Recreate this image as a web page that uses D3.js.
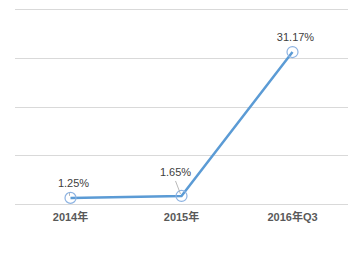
<!DOCTYPE html>
<html>
<head>
<meta charset="utf-8">
<script src="https://cdn.jsdelivr.net/npm/d3@7"></script>
<style>
  body { margin: 0; background: #fff; }
  text { font-family: "Liberation Sans", "Noto Sans CJK SC", sans-serif; }
</style>
</head>
<body>
<script>
// data
var categories = ["2014年", "2015年", "2016年Q3"];
var values = [1.25, 1.65, 31.17];
var yTicks = [0, 10, 20, 30, 40];

var margin = {top: 9, right: 14, bottom: 53, left: 15};
var width = 362 - margin.left - margin.right;
var height = 257 - margin.top - margin.bottom;

var svg = d3.select("body").append("svg")
    .attr("width", 362)
    .attr("height", 257)
  .append("g")
    .attr("transform", "translate(" + margin.left + "," + margin.top + ")");

var x = d3.scaleBand().domain(categories).range([0, width]);
var y = d3.scaleLinear().domain([0, 40]).range([height, 0]);

// gridlines
svg.selectAll(".grid")
    .data(yTicks)
  .enter().append("line")
    .attr("x1", 0).attr("x2", width)
    .attr("y1", function(d) { return Math.round(y(d)) + 0.5; })
    .attr("y2", function(d) { return Math.round(y(d)) + 0.5; })
    .style("stroke", "#d9d9d9")
    .style("stroke-width", 1);

// x axis labels
var xAxis = d3.axisBottom(x).tickSize(0).tickPadding(9);
var gx = svg.append("g")
    .attr("transform", "translate(0," + height + ")")
    .call(xAxis);
gx.select(".domain").remove();
gx.selectAll("text")
    .style("font-size", "11px")
    .style("font-weight", "bold")
    .style("fill", "#595959");

var cx = function(i) { return x(categories[i]) + x.bandwidth() / 2; };

// line
var line = d3.line()
    .x(function(d, i) { return cx(i); })
    .y(function(d) { return y(d); });

svg.append("path")
    .datum(values)
    .attr("d", line)
    .style("fill", "none")
    .style("stroke", "#5b9bd5")
    .style("stroke-width", 2.5);

// markers
svg.selectAll(".marker")
    .data(values)
  .enter().append("circle")
    .attr("cx", function(d, i) { return cx(i); })
    .attr("cy", function(d) { return y(d); })
    .attr("r", 5.5)
    .style("fill", "none")
    .style("stroke", "#8db3e2")
    .style("stroke-width", 1.2);

// labels with small leader lines
var labelOffset = [[3, -11], [-6, -20], [3, -11]];

svg.selectAll(".leader")
    .data(values.slice(0, 2))
  .enter().append("line")
    .attr("x1", function(d, i) { return cx(i) + labelOffset[i][0] + (i === 0 ? -4 : 0); })
    .attr("y1", function(d, i) { return y(d) - (i === 0 ? 5 : 15); })
    .attr("x2", function(d, i) { return cx(i) - 1; })
    .attr("y2", function(d) { return y(d) - 2; })
    .style("stroke", "#a6a6a6")
    .style("stroke-width", 0.8);

svg.selectAll(".label")
    .data(values)
  .enter().append("text")
    .attr("x", function(d, i) { return cx(i) + labelOffset[i][0]; })
    .attr("y", function(d, i) { return y(d) + labelOffset[i][1]; })
    .attr("text-anchor", "middle")
    .style("font-size", "11px")
    .style("fill", "#404040")
    .text(function(d) { return d.toFixed(2) + "%"; });
</script>
</body>
</html>
